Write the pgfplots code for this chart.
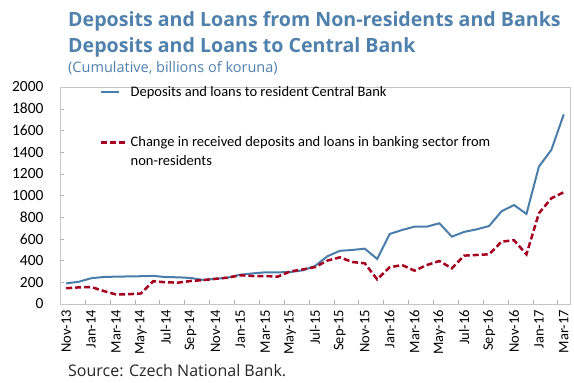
\documentclass[border=0pt]{standalone}
\usepackage{fontspec}
\setmainfont{Carlito}
\newfontfamily\titlefont{Open Sans}
\usepackage{pgfplots}
\pgfplotsset{compat=1.18}
\usepackage{pgfplotstable}
\definecolor{lineblue}{RGB}{74,126,170}
\definecolor{linered}{RGB}{165,0,33}
\definecolor{titleblue}{RGB}{79,129,173}
\pgfplotsset{shiftedlegend/.style={legend image code/.code={\draw[##1] (0pt,9.5pt) -- (26pt,9.5pt);}}}
\pgfplotstableread{
i blue red
0 190 145
1 205 153
2 237 157
3 249 120
4 252 88
5 254 90
6 256 97
7 259 210
8 248 200
9 246 197
10 240 212
11 222 220
12 232 232
13 243 243
14 270 265
15 282 258
16 292 258
17 292 252
18 294 300
19 310 318
20 350 340
21 440 400
22 490 430
23 498 387
24 510 375
25 415 227
26 645 338
27 682 359
28 713 307
29 713 359
30 744 396
31 621 329
32 665 446
33 688 452
34 719 458
35 855 575
36 912 587
37 830 458
38 1266 836
39 1420 974
40 1748 1030
}\datatable
\begin{document}
\begin{tikzpicture}[x=1pt,y=1pt]
\useasboundingbox (0,0) rectangle (574,383);
\node[anchor=base west, inner sep=0, font=\titlefont\fontsize{19.6}{22}\selectfont\bfseries, text=titleblue] at (68,356.3) {Deposits and Loans from Non-residents and Banks};
\node[anchor=base west, inner sep=0, font=\titlefont\fontsize{19.6}{22}\selectfont\bfseries, text=titleblue] at (68,330) {Deposits and Loans to Central Bank};
\node[anchor=base west, inner sep=0, font=\titlefont\fontsize{14.5}{16}\selectfont, text=titleblue] at (68,310) {(Cumulative, billions of koruna)};
\node[anchor=base west, inner sep=0, font=\titlefont\fontsize{16}{18}\selectfont, text=black!85] at (68,6) {Source: Czech National Bank.};
\begin{axis}[
  at={(60pt,79pt)}, anchor=south west,
  scale only axis, width=510pt, height=217pt,
  xmin=-0.5, xmax=40.5, ymin=0, ymax=2000,
  ytick={0,200,...,2000},
  xtick={0,2,...,40},
  xticklabels={Nov-13,Jan-14,Mar-14,May-14,Jul-14,Sep-14,Nov-14,Jan-15,Mar-15,May-15,Jul-15,Sep-15,Nov-15,Jan-16,Mar-16,May-16,Jul-16,Sep-16,Nov-16,Jan-17,Mar-17},
  minor xtick={1.5,3.5,...,39.5},
  tick pos=left,
  tick align=inside,
  major x tick style={draw=none},
  minor x tick style={gray!60},
  minor tick length=4pt,
  major tick length=4pt,
  ytick style={gray!60},
  axis line style={gray!45},
  scaled y ticks=false,
  /pgf/number format/assume math mode=true,
  /pgf/number format/1000 sep={},
  yticklabel style={xshift=-13pt, font=\fontsize{15.5}{17}\selectfont},
  xticklabel style={rotate=90, anchor=east, inner sep=1pt, xshift=-5pt, font=\fontsize{14.5}{16}\selectfont},
  legend style={draw=none, fill=none, at={(40pt,220pt)}, anchor=north west, font=\fontsize{14.5}{19}\selectfont, row sep=35pt, cells={align=left}, inner sep=0pt},
  legend cell align=left,
]
\addplot[lineblue, line width=2pt] table[x=i, y=blue] {\datatable};
\addlegendentry{Deposits and loans to resident Central Bank}
\addplot[linered, line width=2.5pt, dash pattern=on 6pt off 3pt, shiftedlegend] table[x=i, y=red] {\datatable};
\addlegendentry{Change in received deposits and loans in banking sector from\\non-residents}
\end{axis}
\end{tikzpicture}
\end{document}
